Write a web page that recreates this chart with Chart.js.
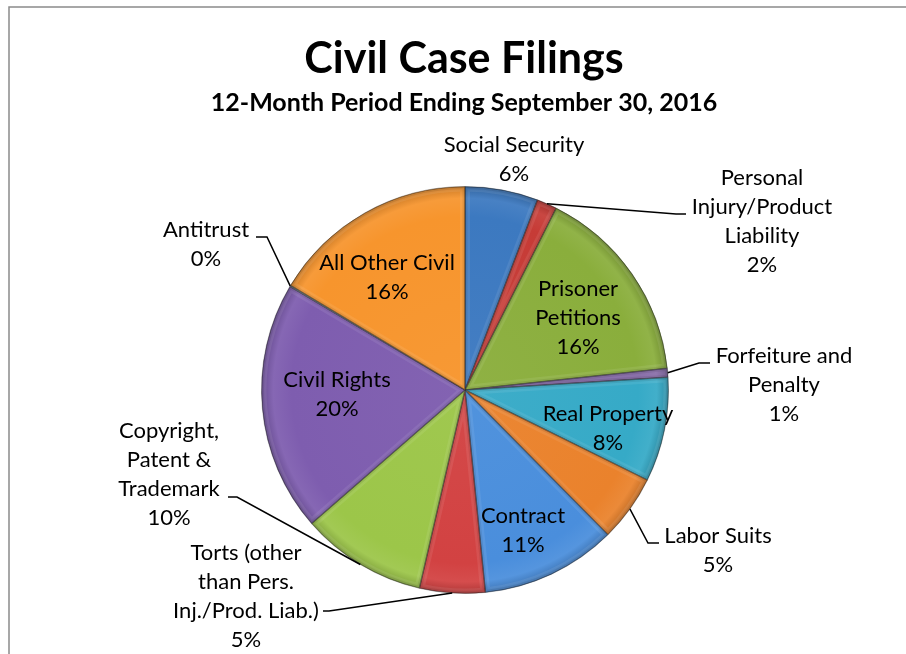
<!DOCTYPE html>
<html><head><meta charset="utf-8">
<script src="https://cdn.jsdelivr.net/npm/chart.js@4.4.0/dist/chart.umd.min.js"></script>
<style>html,body{margin:0;padding:0;background:#fff;} canvas{display:block;}</style>
</head><body>
<canvas id="c" width="906" height="654"></canvas>
<script>
// ---- data ----
const chartTitle = "Civil Case Filings";
const chartSubtitle = "12-Month Period Ending September 30, 2016";
const categories = ["Social Security","Personal Injury/Product Liability","Prisoner Petitions","Forfeiture and Penalty","Real Property","Labor Suits","Contract","Torts (other than Pers. Inj./Prod. Liab.)","Copyright, Patent & Trademark","Civil Rights","Antitrust","All Other Civil"];
const shares = [5.8, 1.6, 15.9, 0.7, 8.3, 5.3, 10.8, 5.2, 10.0, 19.9, 0.1, 16.4];
const labelLines = [
  ["Social Security"],
  ["Personal","Injury/Product","Liability"],
  ["Prisoner","Petitions"],
  ["Forfeiture and","Penalty"],
  ["Real Property"],
  ["Labor Suits"],
  ["Contract"],
  ["Torts (other","than Pers.","Inj./Prod. Liab.)"],
  ["Copyright,","Patent &","Trademark"],
  ["Civil Rights"],
  ["Antitrust"],
  ["All Other Civil"]
];

// ---- styles / layout ----
const sliceColors = ["#3C79C0","#C63B36","#8AAE3C","#8064A2","#36AAC7","#EA822C","#4A8EDC","#D24242","#9CC649","#7E5DAF","#8FA9B0","#F7952D"];
const labelLayout = [
  {x:514, y:152, leader:null},
  {x:762, y:185, leader:[[676,214],[686,214]]},
  {x:578, y:296, leader:null},
  {x:784, y:363, leader:[[699,363],[710,363]]},
  {x:608, y:421, leader:null},
  {x:718, y:543, leader:[[648,543],[659,543]]},
  {x:523, y:523, leader:null},
  {x:246, y:560, leader:[[329,611],[323,611]]},
  {x:169, y:438, leader:[[237,497],[228,497]]},
  {x:337, y:387, leader:null},
  {x:206, y:237, leader:[[267,237],[256,237]]},
  {x:387, y:270, leader:null}
];
const LINE_H = 29;
const LABEL_FONT = '22px Lato';

function shade(hex, f){
  const n = parseInt(hex.slice(1),16);
  let r=(n>>16)&255, g=(n>>8)&255, b=n&255;
  if (f>=0){ r=r+(255-r)*f; g=g+(255-g)*f; b=b+(255-b)*f; }
  else { r=r*(1+f); g=g*(1+f); b=b*(1+f); }
  return `rgb(${Math.round(r)},${Math.round(g)},${Math.round(b)})`;
}

const total = shares.reduce((a,b)=>a+b,0);

const decor = {
  id:'decor',
  beforeDraw(chart){
    const c = chart.ctx;
    c.save();
    c.strokeStyle = '#8a8a8a';
    c.lineWidth = 1.5;
    c.strokeRect(9, 7, 1200, 1200);
    c.fillStyle = '#000';
    c.textAlign = 'center';
    c.textBaseline = 'alphabetic';
    c.font = 'bold 43px Lato';
    c.fillText(chartTitle, 464, 73);
    c.font = 'bold 25px Lato';
    c.fillText(chartSubtitle, 464, 111);
    c.restore();
  },
  afterDatasetsDraw(chart){
    const c = chart.ctx;
    const arcs = chart.getDatasetMeta(0).data;
    // bevel
    arcs.forEach((el,i)=>{
      const {x,y,outerRadius,startAngle,endAngle} = el;
      if (endAngle - startAngle < 0.002) return;
      c.save();
      c.beginPath();
      c.moveTo(x,y);
      c.arc(x,y,outerRadius,startAngle,endAngle);
      c.closePath();
      c.clip();
      c.lineJoin='round';
      c.strokeStyle='rgba(255,255,255,0.08)';
      c.lineWidth=10;
      c.stroke();
      c.strokeStyle='rgba(0,0,0,0.08)';
      c.lineWidth=5;
      c.stroke();
      c.strokeStyle='rgba(0,0,0,0.3)';
      c.lineWidth=1.6;
      c.stroke();
      c.restore();
    });
    // labels
    c.save();
    c.fillStyle='#000';
    c.strokeStyle='#000';
    c.lineWidth=1.5;
    c.textAlign='center';
    c.textBaseline='alphabetic';
    c.font = LABEL_FONT;
    arcs.forEach((el,i)=>{
      const lay = labelLayout[i];
      const pct = Math.round(shares[i]/total*100) + '%';
      const lines = labelLines[i].concat([pct]);
      lines.forEach((t,k)=> c.fillText(t, lay.x, lay.y + k*LINE_H));
      if (lay.leader){
        const mid = (el.startAngle + el.endAngle)/2;
        const sx = el.x + el.outerRadius*Math.cos(mid);
        const sy = el.y + el.outerRadius*Math.sin(mid);
        c.beginPath();
        c.moveTo(sx,sy);
        lay.leader.forEach(p=>c.lineTo(p[0],p[1]));
        c.stroke();
      }
    });
    c.restore();
  }
};

new Chart(document.getElementById('c'), {
  type:'pie',
  data:{
    labels: categories,
    datasets:[{
      data: shares,
      backgroundColor: (ctx)=>{
        const col = sliceColors[ctx.dataIndex];
        const chart = ctx.chart;
        const ca = chart.chartArea;
        if (!ca) return col;
        const cx=(ca.left+ca.right)/2, cy=(ca.top+ca.bottom)/2;
        const r = Math.min(ca.right-ca.left, ca.bottom-ca.top)/2;
        const g = chart.ctx.createRadialGradient(cx,cy,0,cx,cy,r);
        g.addColorStop(0, shade(col,0.04));
        g.addColorStop(0.85, col);
        g.addColorStop(0.94, shade(col,0.06));
        g.addColorStop(1, shade(col,-0.18));
        return g;
      },
      borderColor:'rgba(50,50,50,0.35)',
      borderWidth:1
    }]
  },
  options:{
    responsive:false,
    animation:false,
    layout:{padding:{left:261,right:237,top:186,bottom:60}},
    plugins:{legend:{display:false},tooltip:{enabled:false},title:{display:false}}
  },
  plugins:[decor]
});
</script>
</body></html>
